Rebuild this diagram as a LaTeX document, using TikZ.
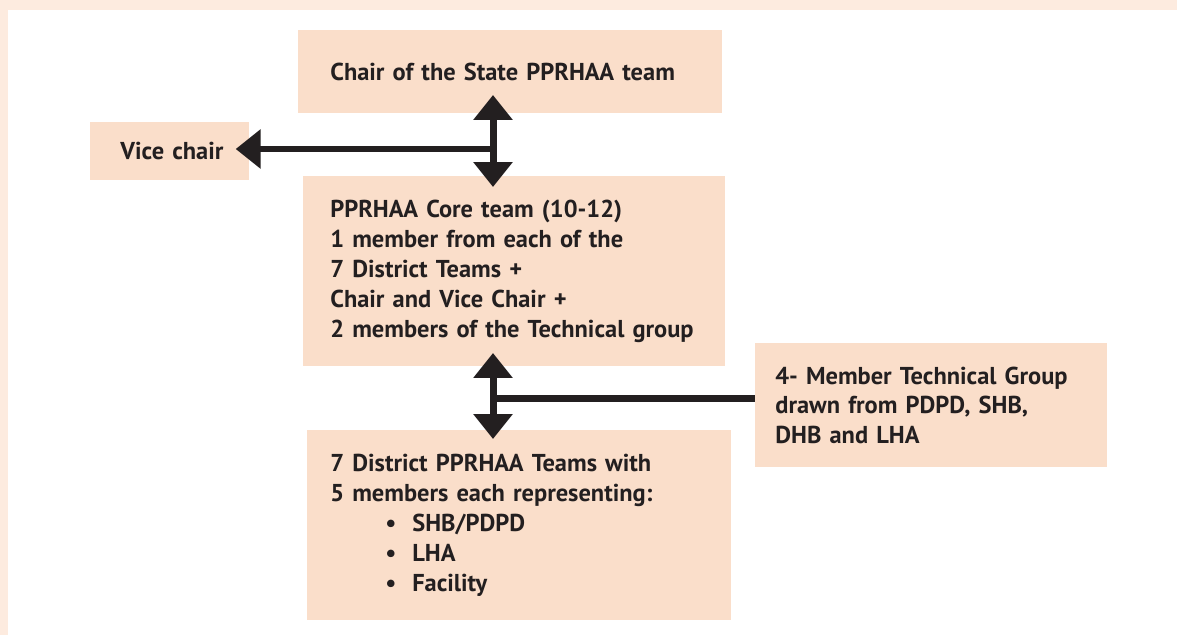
\documentclass[tikz,border=0pt]{standalone}
\usepackage{fontspec}
\setmainfont{PT Sans}
\usetikzlibrary{arrows.meta,positioning}
\definecolor{boxfill}{HTML}{FADECA}
\definecolor{framefill}{HTML}{FDEBDF}
\definecolor{ink}{HTML}{231F20}
\tikzset{
  orgbox/.style={fill=boxfill, text=ink, font=\bfseries\fontsize{13.9}{17}\selectfont,
    align=left, anchor=north west, inner ysep=0pt},
  link/.style={draw=ink, line width=0.14cm},
  head/.tip={Triangle[width=0.76cm,length=0.5cm]},
}
\newcommand{\bul}[1]{\hspace*{1.1cm}\makebox[0.54cm][l]{\textbullet}#1}
\begin{document}
\begin{tikzpicture}[x=0.02cm,y=-0.02cm]
  \useasboundingbox (0,0) rectangle (1177,635);
  % frame
  \fill[framefill] (0,0) rectangle (1177,635);
  \fill[white] (8,10) rectangle (1177,635);

  % boxes
  \node[orgbox, inner xsep=0.64cm, text width=7.2cm, minimum height=1.66cm] (chair) at (298,30)
    {Chair of the State PPRHAA team};
  \node[orgbox, inner xsep=0.6cm, text width=1.98cm, minimum height=1.16cm] (vice) at (90,122)
    {Vice~chair};
  \node[orgbox, inner xsep=0.54cm, text width=7.36cm, minimum height=3.8cm] (core) at (303,176)
    {PPRHAA Core team (10-12)\\
     1 member from each of the\\
     7 District Teams +\\
     Chair and Vice Chair +\\
     2 members of the Technical group};
  \node[orgbox, inner xsep=0.4cm, text width=6.24cm, minimum height=2.48cm] (tech) at (755,343)
    {4- Member Technical Group\\
     drawn from PDPD, SHB,\\
     DHB and LHA};
  \node[orgbox, inner xsep=0.46cm, text width=7.56cm, minimum height=3.8cm] (district) at (307,430)
    {7 District PPRHAA Teams with\\
     5 members each representing:\\
     \bul{SHB/PDPD}\\
     \bul{LHA}\\
     \bul{Facility}};

  % connectors
  \coordinate (top1) at (493,95);
  \coordinate (bot1) at (493,187);
  \coordinate (mid1) at (493,149);
  \coordinate (top2) at (493,353);
  \coordinate (bot2) at (493,439);
  \coordinate (mid2) at (493,398);

  \draw[link, head-head] (top1) -- (bot1);
  \draw[link, -head] (mid1) -- ([xshift=-0.28cm]vice.east |- mid1);
  \draw[link, head-head] (top2) -- (bot2);
  \draw[link] (mid2) -- (mid2 -| tech.west);
\end{tikzpicture}
\end{document}
